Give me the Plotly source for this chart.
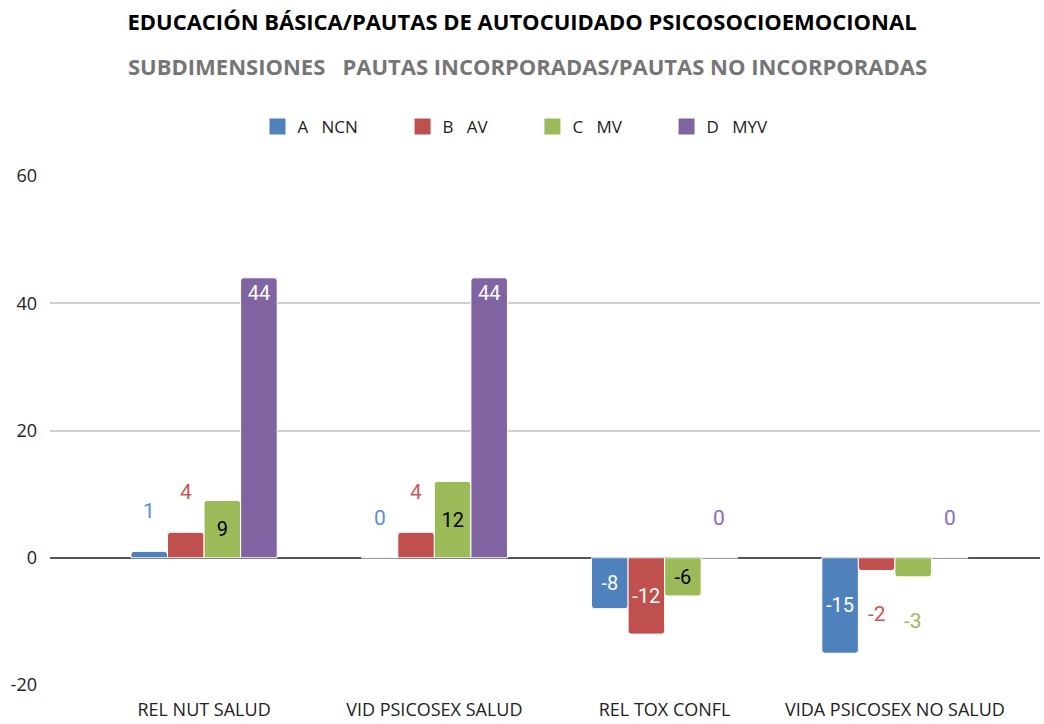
import plotly.graph_objects as go

categories = ["REL NUT SALUD", "VID PSICOSEX SALUD", "REL TOX CONFL", "VIDA PSICOSEX NO SALUD"]
series_names = ["A\u00a0\u00a0\u00a0NCN", "B\u00a0\u00a0\u00a0AV", "C\u00a0\u00a0\u00a0MV", "D\u00a0\u00a0\u00a0MYV"]
vals_a = [1, 0, -8, -15]
vals_b = [4, 4, -12, -2]
vals_c = [9, 12, -6, -3]
vals_d = [44, 44, 0, 0]
y_ticks = [-20, 0, 20, 40, 60]
y_tick_labels = ["-20", "0", "20", "40", "60"]
# label placement: True = inside bar, False = outside (offset)
inside_a = [False, False, True, True]
inside_b = [False, False, True, False]
inside_c = [True, True, True, False]
inside_d = [True, True, False, False]

colors = ["#4F81BD", "#C0504D", "#9BBB59", "#8064A2"]
label_out_colors = ["#5B8ED6", "#D05555", "#9BBB59", "#8E6CB8"]
inside_text_colors = ["white", "white", "black", "white"]
anchors = ["middle", "middle", "middle", "end"]

all_vals = [vals_a, vals_b, vals_c, vals_d]
all_inside = [inside_a, inside_b, inside_c, inside_d]

x_idx = list(range(len(categories)))
group_w = 0.635
bar_w = group_w / 4
FONT = "Liberation Sans Narrow, Open Sans, sans-serif"

fig = go.Figure()
annotations = []
for s, (name, vals, ins) in enumerate(zip(series_names, all_vals, all_inside)):
    texts = [str(v) if i else "" for v, i in zip(vals, ins)]
    fig.add_trace(go.Bar(
        x=x_idx, y=vals, name=name, showlegend=False,
        marker=dict(color=colors[s], line=dict(color="white", width=1)),
        text=texts, textposition="inside", insidetextanchor=anchors[s],
        textfont=dict(family="Roboto, sans-serif", size=20, color=inside_text_colors[s]),
        textangle=0, constraintext="none", hoverinfo="skip",
    ))
    off = (s - 1.5) * bar_w
    for xi, v, i in zip(x_idx, vals, ins):
        if not i:
            annotations.append(dict(
                x=xi + off, y=v, xref="x", yref="y", text=str(v), showarrow=False,
                yshift=(-44 if v < 0 else 40),
                font=dict(family="Roboto, sans-serif", size=21, color=label_out_colors[s]),
            ))

# legend-only entries with square swatches
for s, name in enumerate(series_names):
    fig.add_trace(go.Scatter(
        x=[None], y=[None], mode="markers", name=name + "\u00a0" * 9,
        marker=dict(symbol="square", size=22, color=colors[s]),
        hoverinfo="skip",
    ))

annotations.append(dict(
    x=(527 - 50) / 990, y=1 + (176 - 66) / 509, xref="paper", yref="paper",
    showarrow=False, yanchor="middle", xanchor="center",
    text="<b>SUBDIMENSIONES\u00a0\u00a0\u00a0PAUTAS INCORPORADAS/PAUTAS NO INCORPORADAS</b>",
    font=dict(family=FONT, size=22, color="#767676"),
))

fig.update_layout(
    width=1044, height=724,
    paper_bgcolor="white", plot_bgcolor="white",
    margin=dict(l=50, r=4, t=176, b=39),
    barmode="group", bargap=1 - group_w, bargroupgap=0,
    barcornerradius=3,
    title=dict(
        text="<b>EDUCACIÓN BÁSICA/PAUTAS DE AUTOCUIDADO PSICOSOCIOEMOCIONAL</b>",
        x=0.5, xanchor="center", y=1 - 22 / 724, yanchor="middle",
        font=dict(family=FONT, size=22, color="black"),
    ),
    legend=dict(
        orientation="h", x=0.5 + 13 / 1044, xanchor="center", xref="container",
        y=1 - 127 / 724, yanchor="middle", yref="container",
        font=dict(family=FONT, size=17, color="#222"),
        itemwidth=30,
    ),
    xaxis=dict(
        range=[-0.669, 3.63], tickvals=x_idx, ticktext=categories,
        showgrid=False, zeroline=False, showline=False, ticks="", automargin=False,
        ticklabelstandoff=12,
        tickfont=dict(family=FONT, size=18, color="#222"),
    ),
    yaxis=dict(
        range=[-20, 60], tickvals=y_ticks, ticktext=y_tick_labels,
        showgrid=True, gridcolor="#D0D0D0", gridwidth=1.5,
        zeroline=True, zerolinecolor="#555555", zerolinewidth=2,
        showline=False, ticks="", ticklabelstandoff=12, automargin=False,
        tickfont=dict(family=FONT, size=18, color="#222"),
    ),
    annotations=annotations,
    showlegend=True,
)

fig.write_html("out.html", config={"displayModeBar": False},
               post_script="document.body.style.margin='0px';")
